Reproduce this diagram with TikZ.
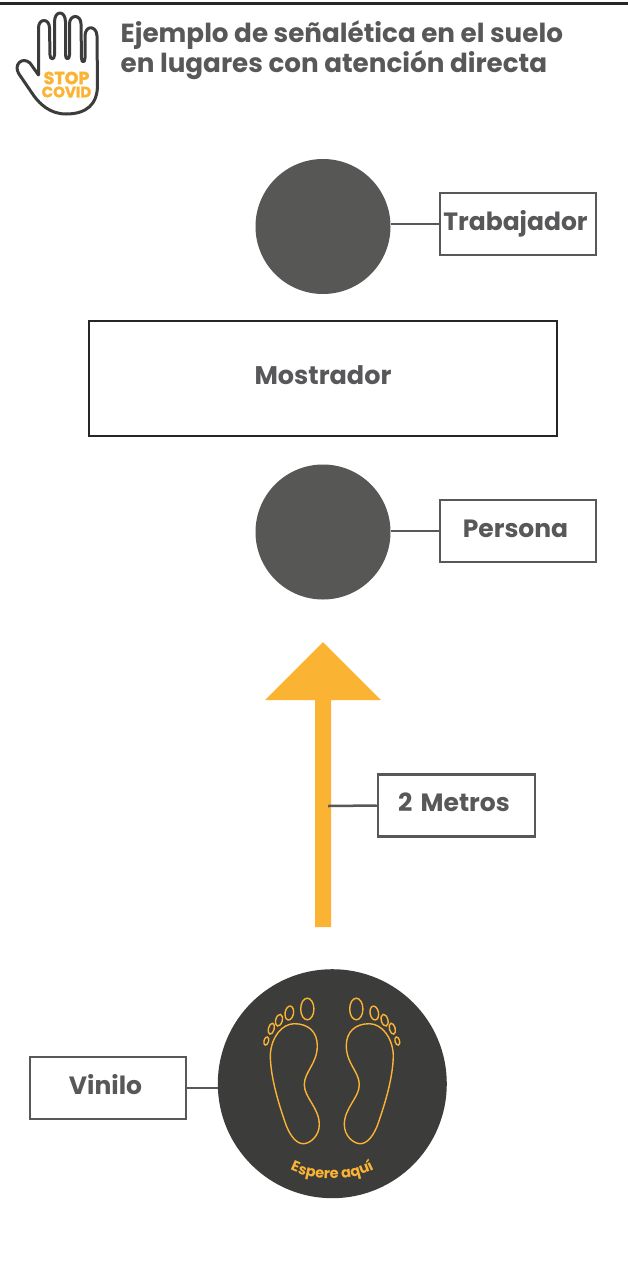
\documentclass[tikz,border=0pt]{standalone}
\usepackage{fontspec}
\setmainfont{Poppins}
\newfontfamily\fuerteLogo[FakeBold=1.6]{Poppins}
\usetikzlibrary{decorations.text}
\definecolor{grisTexto}{HTML}{58585A}
\definecolor{grisCirculo}{HTML}{575756}
\definecolor{grisVinilo}{HTML}{3C3C3B}
\definecolor{naranja}{HTML}{FBB334}
\tikzset{
    etiqueta/.style={draw=grisTexto, line width=2.5pt, minimum width=156pt, minimum height=62pt, inner sep=0pt,
        text=grisTexto, font=\fontsize{25}{30}\selectfont\bfseries, text height=18pt, text depth=6pt,
        execute at begin node={\kern-5pt}},
    persona/.style={circle, fill=grisCirculo, minimum size=135pt, inner sep=0pt},
    enlace/.style={draw=grisTexto, line width=2.5pt},
    huella/.style={draw=naranja, line width=1.4pt}
}
\newcommand{\pieVinilo}{
    \draw[huella] (-62,-29) .. controls (-61,-47) and (-50,-60) .. (-38,-60)
        .. controls (-24,-60) and (-15,-52) .. (-15,-38)
        .. controls (-15,-20) and (-28,-12) .. (-28,1)
        .. controls (-28,14) and (-13,24) .. (-13,41)
        .. controls (-13,52) and (-22,60) .. (-29,60)
        .. controls (-36,60) and (-42,52) .. (-46,42)
        .. controls (-52,25) and (-62,-5) .. (-62,-29) -- cycle;
    \draw[huella] (-25,-74.7) ellipse [x radius=6.6, y radius=10.8];
    \draw[huella, rotate around={-10:(-43,-70.7)}] (-43,-70.7) ellipse [x radius=4.2, y radius=7];
    \draw[huella, rotate around={-15:(-53.3,-63.5)}] (-53.3,-63.5) ellipse [x radius=3.3, y radius=6];
    \draw[huella, rotate around={-15:(-61,-55)}] (-61,-55) ellipse [x radius=2.9, y radius=5.6];
    \draw[huella, rotate around={-15:(-66,-42.7)}] (-66,-42.7) ellipse [x radius=2.3, y radius=4.2];
}
\begin{document}
\begin{tikzpicture}[x=1pt,y=-1pt]
        \useasboundingbox (0,0) rectangle (628,1261);
        \fill[white] (0,0) rectangle (628,1261);
        \draw[line width=3pt, draw=black!85] (0,3) -- (628,3);

        % mano
        \draw[line width=3pt, draw=grisVinilo, fill=white, line join=round]
            (38.5,75) -- (38.5,28) .. controls (38.5,18) and (49.5,18) .. (49.5,28)
            -- (50,55) .. controls (50,60) and (54.5,60) .. (54.5,55)
            -- (54.5,22) .. controls (54.5,10) and (65.5,10) .. (65.5,22)
            -- (65.5,55) .. controls (65.5,60) and (69.5,60) .. (69.5,55)
            -- (69.5,24) .. controls (69.5,14) and (81,14) .. (81,24)
            -- (81.5,58) .. controls (81.5,63) and (85,63) .. (85,58)
            -- (85,36) .. controls (85,25) and (96.5,25) .. (97,36)
            -- (97.5,85) .. controls (97.5,104) and (87,114) .. (66,114)
            .. controls (50,114) and (40,104) .. (34,96)
            -- (19,74) .. controls (13,65) and (22,56) .. (30,63) -- cycle;
        \node[text=naranja, font=\fontsize{17.5}{17}\fuerteLogo\bfseries, inner sep=0pt] (stop) at (66.5,78) {STOP};
        \node[text=naranja, font=\fontsize{15}{15}\fuerteLogo\bfseries, inner sep=0pt] (covid) at (66.5,92) {COVID};

        \node[anchor=north west, align=left, inner sep=0pt, text=grisTexto,
            font=\fontsize{26.2}{30}\selectfont\bfseries] (titulo) at (120.5,20)
            {Ejemplo de señalética en el suelo\\en lugares con atención directa};

        \node[persona] (trabajador) at (323,226.5) {};
        \node[etiqueta] (etqTrabajador) at (518,224) {Trabajador};
        \draw[enlace] (etqTrabajador.west) -- (etqTrabajador.west -| trabajador.east);

        \node[draw=black!85, line width=2.5pt, minimum width=468pt, minimum height=115pt, inner sep=0pt,
            text=grisTexto, font=\fontsize{25.5}{30}\selectfont\bfseries, text height=18pt, text depth=6pt] (mostrador) at (323,378.5) {Mostrador};

        \node[persona] (cliente) at (323,532) {};
        \node[etiqueta] (etqPersona) at (518,531) {Persona};
        \draw[enlace] (etqPersona.west) -- (etqPersona.west -| cliente.east);

        \fill[naranja] (315,927) -- (315,700) -- (265,700) -- (323,642) -- (381,700) -- (331,700) -- (331,927) -- cycle;
        \coordinate (flecha) at (328,806);
        \node[etiqueta, minimum width=157pt] (etqMetros) at (456.5,805.5) {2\kern3pt\ Metros};
        \draw[enlace] (etqMetros.west) -- (flecha);

        \node[circle, fill=grisVinilo, minimum size=229pt, inner sep=0pt] (vinilo) at (332.3,1083.7) {};
        \node[etiqueta] (etqVinilo) at (108,1088) {Vinilo};
        \draw[enlace] (etqVinilo.east) -- (etqVinilo.east -| vinilo.west);

        \begin{scope}[shift={(vinilo.center)}]
            \pieVinilo
            \begin{scope}[xshift=-1pt, xscale=-1]
                \pieVinilo
            \end{scope}
            \path[postaction={decorate, decoration={text along path, text align=center,
                text={|\fontsize{14.5}{16}\selectfont\bfseries\color{naranja}|Espere aquí}}}]
                (-46,84) .. controls (-20,99) and (20,99) .. (46,83);
        \end{scope}
    \end{tikzpicture}
\end{document}
